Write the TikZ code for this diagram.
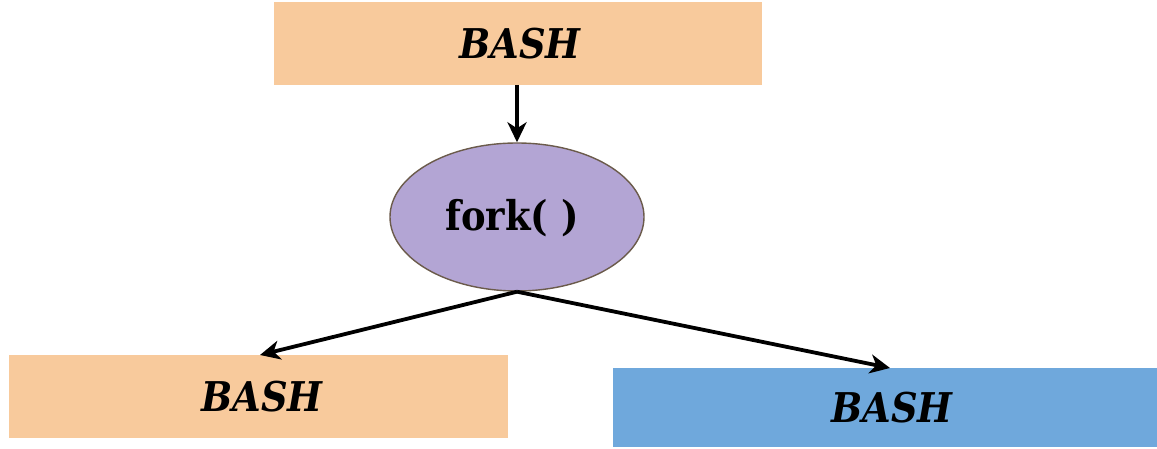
\documentclass[tikz,border=0pt]{standalone}
\usepackage{fontspec}
\setmainfont{DejaVu Serif Condensed}
\usetikzlibrary{arrows.meta,shapes.geometric}
\definecolor{peach}{HTML}{F8CA9C}
\definecolor{lav}{HTML}{B3A5D4}
\definecolor{skyb}{HTML}{6FA8DC}
\definecolor{edgebrown}{HTML}{6B5B4B}
\begin{document}
\begin{tikzpicture}[x=1pt,y=-1pt,
  boxlabel/.style={font=\fontsize{41}{43}\selectfont\bfseries\itshape},
  conn/.style={line width=3.8pt,-{Stealth[length=20pt,width=19pt,inset=6pt]}}]
\useasboundingbox (0,0) rectangle (1157,449);
\fill[peach] (274,2) rectangle (762,85);
\node[boxlabel] (top) at (520,44) {BASH};
\coordinate (topb) at (517,85);
\node[ellipse,draw=edgebrown,line width=1.4pt,fill=lav,minimum width=254pt,minimum height=148pt,inner sep=0pt] (fork) at (517,217) {};
\node[font=\fontsize{41}{43}\selectfont\bfseries] at (512,218) {fork( )};
\fill[peach] (9,355) rectangle (508,438);
\node[boxlabel] (left) at (262,397) {BASH};
\fill[skyb] (613,368) rectangle (1157,447);
\node[boxlabel] (right) at (892,408) {BASH};
\coordinate (lt) at (260,355);
\coordinate (rt) at (890,368);
\draw[conn] (topb) -- (fork.north);
\draw[conn] (fork.south) -- (lt);
\draw[conn] (fork.south) -- (rt);
\end{tikzpicture}
\end{document}
